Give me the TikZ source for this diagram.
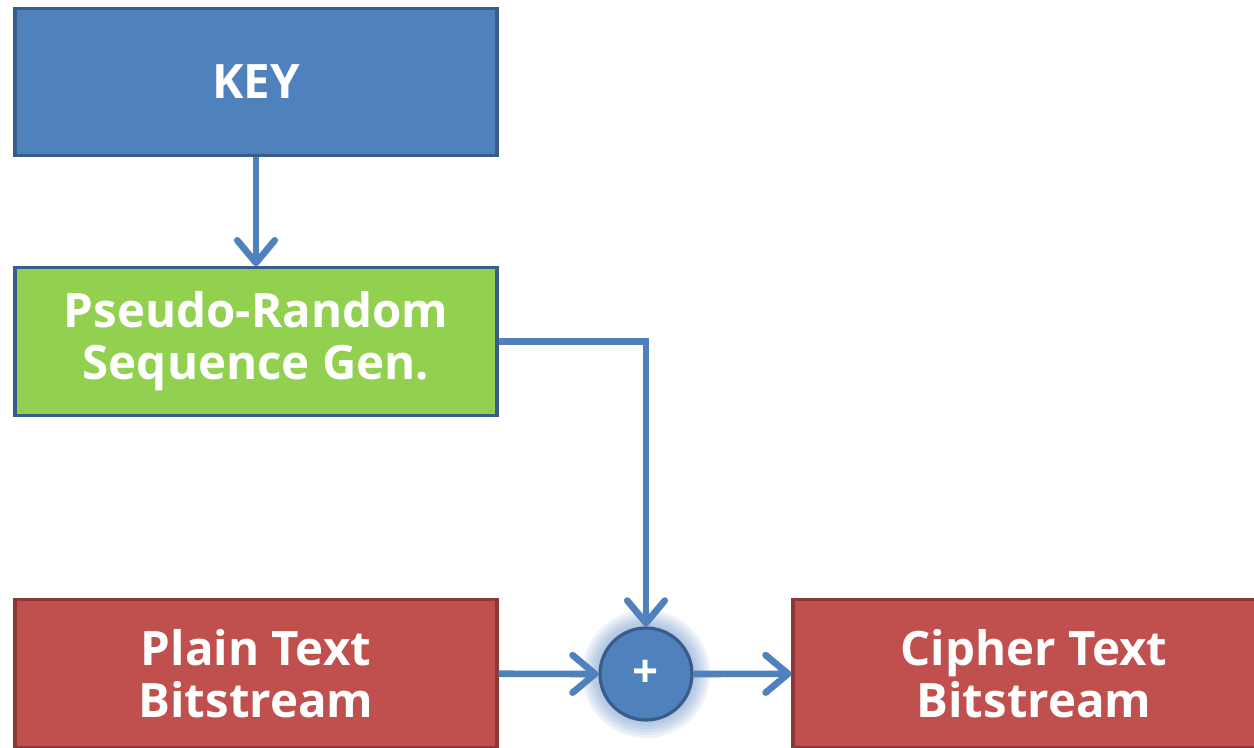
\documentclass[tikz,border=0pt]{standalone}
\usepackage{fontspec}
\setmainfont{Open Sans}
\usetikzlibrary{arrows.meta}

\definecolor{keyblue}{HTML}{4F81BD}
\definecolor{keyborder}{HTML}{385D8A}
\definecolor{gengreen}{HTML}{92D050}
\definecolor{bitred}{HTML}{C0504D}
\definecolor{bitborder}{HTML}{8C3836}

\begin{document}
\begin{tikzpicture}[x=0.02cm, y=-0.02cm, >={Straight Barb[length=4.5mm, width=7.5mm, round]}]
    \tikzstyle{block} = [draw=keyborder, line width=1.8pt, minimum width=9.64cm, minimum height=2.95cm,
                         text=white, font=\fontsize{27}{29.5}\selectfont\bfseries, align=center, inner sep=0pt]
    \tikzstyle{bits} = [block, fill=bitred, draw=bitborder]
    \tikzstyle{xor} = [circle, draw=keyborder, line width=1.8pt, fill=keyblue, minimum size=1.84cm,
                       text=white, font=\fontsize{26}{28}\selectfont\bfseries, inner sep=0pt]
    \tikzstyle{flow} = [draw=keyblue, line width=3.8pt]

    \clip (0,0) rectangle (1254,747);
    \fill[white] (0,0) rectangle (1254,747);

    % glow round the adder
    \foreach \r in {64,61,...,47}
        \fill[keyblue!80!white, opacity=0.12] (646,674) circle (\r);

    \path
      node[block, fill=keyblue] (key) at (256,82) {KEY}
      node[block, fill=gengreen] (gen) at (256,341.5) {Pseudo-Random\\Sequence Gen.}
      node[bits] (plain) at (256,673.5) {Plain Text\\Bitstream}
      node[xor] (sum) at (646,674) {+}
      node[bits] (cipher) at (1034,673.5) {Cipher Text\\Bitstream};

    \draw[flow, ->] (key) -- (gen);
    \draw[flow, ->] (gen.east) -| (sum.north);
    \draw[flow, ->] (plain) -- (sum);
    \draw[flow, ->] (sum) -- (cipher);
\end{tikzpicture}
\end{document}
